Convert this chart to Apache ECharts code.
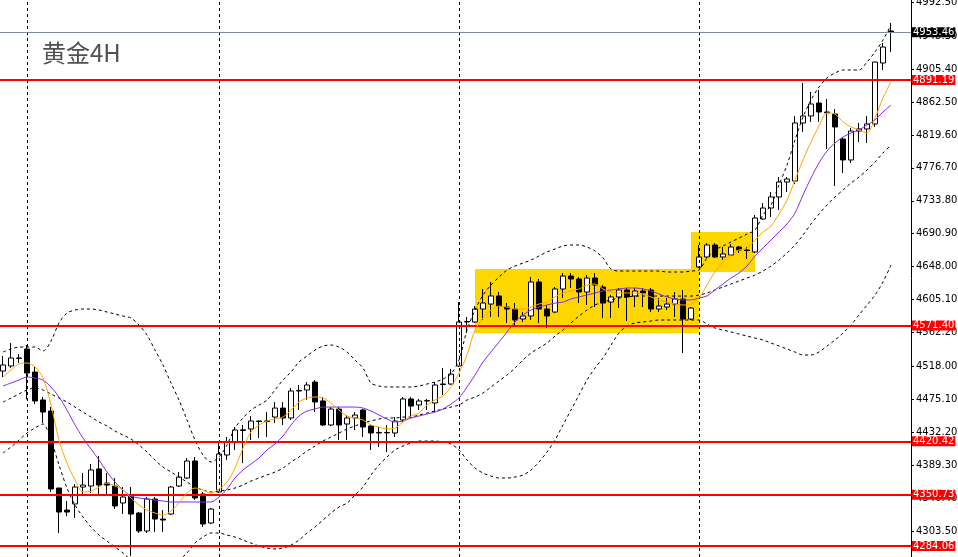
<!DOCTYPE html>
<html><head><meta charset="utf-8">
<script src="https://cdn.jsdelivr.net/npm/echarts@6/dist/echarts.min.js"></script>
<style>html,body{margin:0;padding:0;background:#fff}#c{width:958px;height:557px}</style>
</head><body><div id="c"></div>
<script>
// [open, close, low, high]
const candles = [
[4512.0,4519.9,4504.2,4531.6],[4518.6,4529.0,4516.0,4548.5],[4528.5,4529.0,4522.5,4534.2],[4540.7,4509.4,4475.0,4545.9],
[4510.7,4473.0,4469.1,4517.3],[4474.3,4458.6,4444.3,4478.2],[4459.9,4358.3,4354.4,4465.1],[4359.6,4328.3,4301.0,4359.6],
[4330.9,4328.3,4323.1,4342.7],[4338.8,4360.9,4320.5,4364.8],[4360.9,4363.5,4350.5,4379.2],[4362.2,4383.1,4353.1,4390.9],
[4384.4,4363.5,4351.8,4401.3],[4366.1,4363.5,4351.8,4379.2],[4362.2,4336.2,4332.2,4372.6],[4340.1,4347.9,4325.7,4360.9],
[4349.2,4325.7,4271.0,4360.9],[4327.0,4303.6,4301.0,4328.3],[4303.6,4345.3,4301.0,4347.9],[4345.3,4319.2,4302.3,4347.9],
[4319.2,4317.9,4302.3,4330.9],[4325.7,4360.9,4324.4,4362.2],[4362.2,4373.9,4360.9,4380.5],[4372.6,4394.8,4371.3,4398.7],
[4394.8,4346.6,4344.0,4400.0],[4351.8,4312.7,4308.8,4354.4],[4314.0,4332.2,4312.7,4333.5],[4354.4,4403.9,4353.1,4419.5],
[4402.6,4419.5,4396.1,4426.1],[4419.5,4435.2,4409.1,4439.1],[4434.5,4435.5,4392.0,4441.7],[4436.5,4446.9,4422.1,4453.4],
[4446.9,4446.2,4424.8,4447.5],[4446.2,4447.0,4426.1,4458.6],[4452.1,4463.8,4444.3,4471.7],[4463.8,4450.8,4441.7,4471.7],
[4450.8,4486.0,4448.2,4489.9],[4486.0,4486.7,4461.2,4493.8],[4487.3,4493.8,4474.3,4497.7],[4497.7,4471.7,4458.6,4500.3],
[4473.0,4441.7,4440.4,4478.2],[4441.7,4462.5,4440.4,4465.1],[4462.5,4441.7,4422.1,4465.1],[4443.0,4450.8,4422.1,4454.7],
[4450.8,4454.7,4435.2,4458.6],[4461.2,4439.1,4426.1,4462.5],[4440.4,4431.3,4409.1,4441.7],[4431.3,4432.0,4413.0,4439.1],
[4432.0,4431.5,4406.5,4441.7],[4431.3,4446.9,4426.1,4452.1],[4448.2,4475.6,4445.6,4478.2],[4475.6,4466.4,4450.8,4478.2],
[4467.8,4473.0,4461.2,4475.6],[4473.0,4473.5,4461.2,4475.6],[4470.4,4493.8,4458.6,4497.7],[4495.1,4494.5,4480.8,4516.0],
[4495.1,4508.1,4493.8,4514.7],[4518.6,4575.9,4517.3,4601.9],[4575.9,4576.5,4561.6,4582.4],[4575.9,4592.8,4574.6,4596.7],
[4592.8,4600.6,4578.5,4618.9],[4599.3,4609.8,4582.4,4628.0],[4609.8,4596.7,4582.4,4615.0],[4595.4,4592.8,4574.6,4600.6],
[4592.8,4578.5,4572.0,4600.6],[4579.8,4583.7,4575.9,4588.9],[4583.7,4628.0,4578.5,4634.5],[4628.0,4592.8,4574.6,4631.9],
[4592.8,4583.7,4568.1,4598.0],[4588.9,4618.9,4587.6,4621.5],[4618.9,4635.8,4607.2,4639.7],[4635.8,4631.9,4620.2,4639.7],
[4631.9,4615.0,4600.6,4634.5],[4615.0,4633.2,4598.0,4637.1],[4633.2,4624.1,4595.4,4639.7],[4621.5,4600.6,4581.1,4624.1],
[4601.9,4608.5,4581.1,4611.1],[4608.5,4617.6,4594.1,4620.2],[4617.6,4608.5,4577.2,4620.2],[4609.8,4616.3,4595.4,4620.2],
[4616.3,4613.7,4595.4,4620.2],[4617.6,4592.8,4588.9,4620.2],[4592.8,4596.7,4588.9,4607.2],[4595.4,4599.3,4591.5,4607.2],
[4599.3,4605.9,4582.4,4615.0],[4605.9,4579.8,4535.5,4617.6],[4579.8,4594.1,4578.5,4595.4],[4647.6,4660.6,4646.2,4676.2],
[4660.6,4676.2,4659.3,4678.8],[4676.2,4660.6,4659.3,4678.8],[4660.6,4664.5,4656.7,4673.6],[4663.2,4673.6,4661.9,4677.5],
[4673.6,4669.7,4665.8,4674.9],[4669.7,4669.0,4658.0,4673.6],[4667.1,4711.4,4665.8,4715.3],[4710.1,4724.4,4708.8,4730.9],
[4724.4,4738.8,4712.7,4745.3],[4738.8,4758.3,4721.8,4764.8],[4758.3,4762.2,4745.3,4764.8],[4759.6,4835.2,4755.7,4844.3],
[4835.2,4844.3,4823.4,4887.3],[4844.3,4859.9,4836.5,4875.6],[4861.2,4849.5,4836.5,4878.2],[4849.5,4848.5,4801.3,4866.4],
[4846.9,4830.0,4753.1,4853.4],[4814.3,4787.0,4770.0,4816.9],[4787.0,4824.7,4783.1,4828.7],[4824.7,4827.4,4810.4,4835.2],
[4827.4,4833.9,4809.1,4844.3],[4833.9,4914.6,4830.0,4915.0],[4913.3,4934.2,4904.2,4939.4],[4955.0,4953.46,4927.7,4965.5]
];
const maFast = [4504.2,4513.3,4521.2,4522.5,4517.3,4502.9,4467.8,4422.1,4392.2,4370.0,4354.4,4355.7,4360.9,4366.1,4362.2,4357.0,4346.6,4337.5,4330.9,4327.0,4324.4,4329.6,4340.1,4353.1,4359.6,4357.0,4353.1,4358.3,4367.4,4385.7,4411.7,4432.6,4441.7,4446.9,4449.5,4452.1,4461.2,4471.7,4476.9,4478.2,4476.9,4470.4,4461.2,4453.4,4450.8,4448.2,4441.7,4439.1,4436.5,4437.8,4445.6,4453.4,4457.3,4467.8,4474.3,4479.5,4491.2,4509.4,4532.9,4565.5,4581.1,4591.5,4596.7,4595.4,4592.8,4592.8,4595.4,4599.3,4601.9,4608.5,4613.7,4616.3,4618.9,4624.1,4625.4,4618.9,4615.0,4613.7,4613.7,4613.7,4612.4,4608.5,4604.6,4601.9,4599.3,4598.0,4599.3,4607.2,4624.1,4641.0,4654.1,4663.2,4669.7,4672.3,4682.7,4693.2,4701.0,4716.6,4734.8,4760.9,4787.0,4810.4,4831.3,4848.2,4846.9,4836.5,4830.0,4826.0,4822.1,4841.7,4867.7,4888.6];
const maSlow = [4492.5,4496.4,4500.3,4504.2,4502.9,4500.3,4491.2,4478.2,4461.2,4441.7,4424.8,4410.4,4396.1,4380.5,4367.4,4357.0,4349.2,4346.6,4345.3,4344.0,4342.7,4341.4,4341.4,4341.4,4341.4,4341.4,4341.4,4347.9,4358.3,4372.6,4383.1,4390.9,4398.7,4409.1,4416.9,4427.4,4441.7,4453.4,4459.9,4462.5,4465.1,4465.1,4465.1,4465.1,4465.1,4463.8,4459.9,4454.7,4449.5,4445.6,4446.9,4450.8,4453.4,4456.0,4458.6,4462.5,4469.1,4476.9,4491.2,4506.8,4523.8,4536.8,4549.8,4562.9,4575.9,4585.0,4591.5,4595.4,4598.0,4600.6,4601.9,4605.9,4608.5,4611.1,4613.7,4616.3,4617.6,4618.9,4620.2,4620.2,4618.9,4616.3,4612.4,4608.5,4605.9,4604.6,4604.6,4607.2,4609.8,4617.6,4625.4,4633.2,4639.7,4648.9,4661.9,4672.3,4682.7,4693.2,4703.6,4717.9,4741.4,4763.5,4783.1,4798.7,4809.1,4816.9,4822.1,4826.0,4832.6,4839.1,4849.5,4858.6];
const bbUpper = [4536.8,4540.7,4543.3,4543.3,4543.3,4538.1,4551.1,4574.6,4587.6,4591.5,4592.8,4592.8,4591.5,4588.9,4586.3,4583.7,4581.1,4572.0,4558.9,4539.4,4519.8,4496.4,4474.2,4448.2,4422.1,4402.6,4393.5,4400.0,4415.6,4437.8,4450.8,4461.2,4467.7,4474.2,4487.3,4500.3,4510.7,4523.8,4531.6,4539.4,4544.6,4545.9,4543.3,4536.8,4526.4,4515.9,4496.4,4492.5,4491.2,4491.2,4491.2,4491.2,4492.5,4495.1,4497.7,4501.6,4508.1,4526.4,4565.4,4591.5,4611.0,4624.1,4634.5,4643.6,4648.8,4652.7,4656.6,4661.9,4667.1,4671.0,4674.9,4676.2,4676.2,4673.6,4668.4,4659.3,4644.9,4642.3,4642.3,4642.3,4642.3,4642.3,4642.3,4641.0,4641.0,4641.0,4642.3,4643.6,4659.3,4669.7,4674.9,4680.1,4685.3,4690.5,4695.7,4715.3,4728.3,4754.4,4780.4,4813.0,4843.0,4865.1,4882.0,4893.8,4900.3,4904.2,4904.2,4904.2,4914.6,4927.7,4943.3,4962.8];
const bbMid = [4471.6,4476.8,4482.1,4487.3,4489.9,4487.3,4482.1,4476.8,4471.6,4465.1,4458.6,4452.1,4445.6,4440.4,4433.9,4428.6,4423.4,4415.6,4406.5,4396.1,4386.9,4380.4,4373.9,4367.4,4360.9,4357.0,4354.4,4355.7,4357.0,4359.6,4363.5,4368.7,4372.6,4376.5,4380.4,4385.6,4393.5,4400.0,4407.8,4414.3,4420.8,4426.0,4431.2,4436.5,4440.4,4444.3,4446.9,4449.5,4450.8,4450.8,4452.1,4452.1,4454.7,4457.3,4459.9,4462.5,4465.1,4467.7,4474.2,4478.1,4483.4,4491.2,4499.0,4506.8,4515.9,4526.4,4535.5,4542.0,4548.5,4557.6,4565.4,4574.6,4583.7,4591.5,4598.0,4601.9,4604.5,4607.1,4608.4,4609.7,4609.7,4609.7,4609.7,4609.7,4609.7,4609.7,4609.7,4611.0,4613.7,4617.6,4621.5,4625.4,4629.3,4633.2,4637.1,4642.3,4648.8,4656.6,4665.8,4676.2,4689.2,4703.6,4716.6,4728.3,4738.7,4747.8,4757.0,4764.8,4773.9,4784.3,4796.1,4806.5];
const bbLower = [4405.2,4413.0,4422.1,4431.2,4437.8,4443.0,4422.1,4389.6,4359.6,4337.4,4321.8,4308.8,4298.3,4290.5,4282.7,4274.9,4265.8,4258.0,4252.7,4250.1,4252.7,4259.3,4265.8,4274.9,4287.9,4295.7,4301.0,4301.0,4298.3,4295.7,4291.8,4287.9,4284.0,4281.4,4280.1,4281.4,4285.3,4291.8,4301.0,4308.8,4317.9,4327.0,4334.8,4340.0,4350.5,4360.9,4376.5,4389.6,4400.0,4409.1,4414.3,4418.2,4420.8,4420.8,4420.8,4419.5,4416.9,4409.1,4396.1,4385.6,4379.1,4375.2,4372.6,4372.6,4373.9,4376.5,4383.0,4393.5,4406.5,4422.1,4441.7,4461.2,4480.8,4500.3,4515.9,4529.0,4545.9,4561.5,4570.7,4574.6,4575.9,4577.2,4578.5,4578.5,4578.5,4578.5,4578.5,4578.5,4573.3,4568.0,4565.4,4562.9,4560.2,4557.6,4555.0,4552.4,4548.5,4544.6,4540.7,4536.8,4532.9,4532.9,4536.8,4544.6,4552.4,4561.5,4572.0,4585.0,4598.0,4611.0,4628.0,4650.1];
const levels = [4891.19, 4571.40, 4420.42, 4350.73, 4284.06];
const lastPrice = 4953.46;
const yTicks = [4992.50,4948.30,4905.40,4862.50,4819.60,4776.70,4733.80,4690.90,4648.00,4605.10,4562.20,4518.00,4475.10,4432.20,4389.30,4346.40,4303.50];
const separators = [3, 27, 57, 87];
// [fromBar, topPrice, toBar, bottomPrice]
const boxes = [[59, 4644.9, 87, 4561.5], [86, 4693.1, 94, 4641.0]];
const slotCount = 114;
const yMin = 4269.72, yMax = 4995.42;

const categories = [];
for (let i = 0; i < slotCount; i++) categories.push(String(i));

const FONT = 'DejaVu Sans';
const chart = echarts.init(document.getElementById('c'), null, {renderer: 'canvas'});

function lineSeries(name, data, color, dashed, z) {
  return {
    name, type: 'line', data, symbol: 'none', smooth: 0.3, z,
    silent: true, animation: false,
    lineStyle: {color, width: 1, type: dashed ? [3, 3] : 'solid'}
  };
}

chart.setOption({
  animation: false,
  backgroundColor: '#ffffff',
  title: {
    text: '黄金4H', left: 37, top: 36,
    textStyle: {fontFamily: 'Noto Sans CJK SC', fontSize: 24, fontWeight: 'normal', color: '#505050'}
  },
  grid: {left: -1, right: 47, top: 0, bottom: 0, containLabel: false, outerBoundsMode: 'none'},
  xAxis: {
    type: 'category', data: categories, boundaryGap: true,
    axisLine: {show: false}, axisTick: {show: false}, axisLabel: {show: false}, splitLine: {show: false}
  },
  yAxis: {
    type: 'value', position: 'right', min: yMin, max: yMax, scale: true,
    axisLine: {show: true, lineStyle: {color: '#000', width: 1}},
    axisTick: {show: true, inside: false, length: 3, customValues: yTicks, lineStyle: {color: '#000'}},
    axisLabel: {show: true, customValues: yTicks, margin: 5, color: '#000', fontSize: 10, fontFamily: FONT,
      padding: [3, 0, 0, 0], formatter: v => Number(v).toFixed(2)},
    splitLine: {show: false}
  },
  series: [
    {
      name: 'boxes', type: 'line', data: [], z: 1, silent: true,
      markArea: {
        silent: true,
        itemStyle: {color: '#FFD700', opacity: 1},
        data: boxes.map(b => [{xAxis: String(b[0]), yAxis: b[1]}, {xAxis: String(b[2]), yAxis: b[3]}])
      }
    },
    {
      name: 'separators', type: 'line', data: [], z: 2, silent: true,
      markLine: {
        silent: true, symbol: 'none', animation: false,
        label: {show: false},
        lineStyle: {color: '#000', width: 1, type: [3, 3]},
        data: separators.map(s => ({xAxis: String(s)}))
      }
    },
    {
      name: 'candles', type: 'candlestick', data: candles, z: 3, barWidth: 5, silent: true,
      itemStyle: {color: '#ffffff', color0: '#000000', borderColor: '#000000', borderColor0: '#000000', borderWidth: 1}
    },
    lineSeries('bbUpper', bbUpper, '#000', true, 4),
    lineSeries('bbMid', bbMid, '#000', true, 4),
    lineSeries('bbLower', bbLower, '#000', true, 4),
    lineSeries('maSlow', maSlow, '#8A2BE2', false, 5),
    lineSeries('maFast', maFast, '#FFA500', false, 5),
    {
      name: 'levels', type: 'line', data: [], z: 6, silent: true,
      markLine: {
        silent: true, symbol: 'none', animation: false,
        lineStyle: {color: '#FF0000', width: 2, type: 'solid'},
        label: {show: true, position: 'end', distance: 1, formatter: p => Number(p.value).toFixed(2),
          color: '#fff', backgroundColor: '#FF0000', fontSize: 10, fontFamily: FONT,
          padding: [0, 1, 0, 1], lineHeight: 10},
        data: levels.map(v => ({yAxis: v}))
      }
    },
    {
      name: 'last', type: 'line', data: [], z: 7, silent: true,
      markLine: {
        silent: true, symbol: 'none', animation: false,
        lineStyle: {color: '#7f8b96', width: 1, type: 'solid'},
        label: {show: true, position: 'end', distance: 1, formatter: p => Number(p.value).toFixed(2),
          color: '#fff', backgroundColor: '#000', fontSize: 10, fontFamily: FONT,
          padding: [0, 1, 0, 1], lineHeight: 10},
        data: [{yAxis: lastPrice}]
      }
    }
  ]
});
</script>
</body></html>
